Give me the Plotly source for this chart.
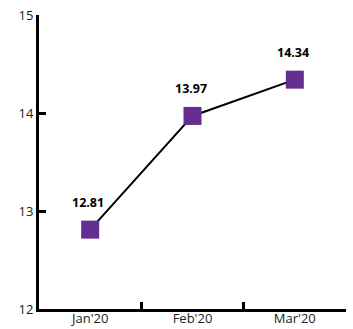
import plotly.graph_objects as go

months = ["Jan'20", "Feb'20", "Mar'20"]
values = [12.81, 13.97, 14.34]
labels = ["12.81", "13.97", "14.34"]

fig = go.Figure()
fig.add_trace(go.Scatter(
    x=months, y=values, mode="lines+markers",
    line=dict(color="black", width=2),
    marker=dict(symbol="square", size=18, color="#662d91"),
    cliponaxis=False, showlegend=False,
))
for m, v, t in zip(months, values, labels):
    fig.add_annotation(
        x=m, y=v, text="<b>%s</b>" % t, showarrow=False,
        yshift=27, xshift=-2,
        font=dict(family="Open Sans", size=12.5, color="black"),
    )
fig.update_layout(
    width=353, height=329,
    margin=dict(l=39, r=7, t=15, b=20),
    plot_bgcolor="white", paper_bgcolor="white",
    font=dict(family="Open Sans", size=13, color="#222"),
)
fig.update_xaxes(
    type="category", range=[-0.5, 2.5], tickson="boundaries",
    showline=True, linecolor="black", linewidth=3,
    ticks="inside", ticklen=7, tickwidth=2.5, tickcolor="black",
    showgrid=False, zeroline=False, automargin=False,
    ticklabelstandoff=-5,
)
fig.update_yaxes(
    range=[12, 15], dtick=1,
    showline=True, linecolor="black", linewidth=3,
    ticks="inside", ticklen=7, tickwidth=2.5, tickcolor="black",
    showgrid=False, zeroline=False, automargin=False,
)
fig.write_html("out.html")
